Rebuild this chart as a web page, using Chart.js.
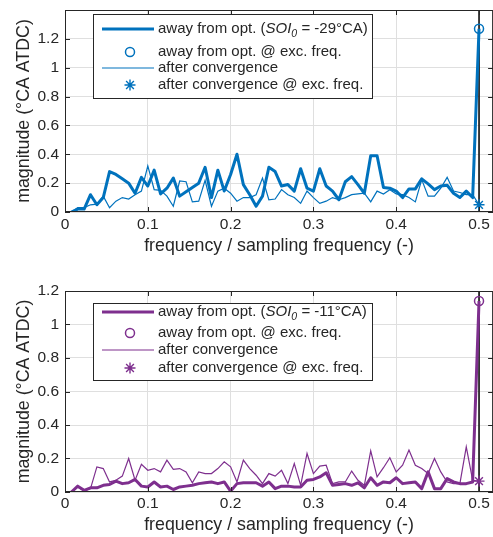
<!DOCTYPE html>
<html>
<head>
<meta charset="utf-8">
<script src="https://cdn.jsdelivr.net/npm/chart.js@4.4.0/dist/chart.umd.min.js"></script>
<style>
  html, body { margin: 0; padding: 0; background: #fff; overflow: hidden; }
  canvas { position: absolute; left: 0; }
  #chartTop { top: 0; }
  #chartBottom { top: 268px; }
</style>
</head>
<body>
<canvas id="chartTop" width="500" height="268"></canvas>
<canvas id="chartBottom" width="500" height="269"></canvas>
<script>
// normalised frequency bins (k / 130)
const freq = [
  0.0077, 0.0154, 0.0231, 0.0308, 0.0385, 0.0462, 0.0538, 0.0615, 0.0692, 0.0769,
  0.0846, 0.0923, 0.1000, 0.1077, 0.1154, 0.1231, 0.1308, 0.1385, 0.1462, 0.1538,
  0.1615, 0.1692, 0.1769, 0.1846, 0.1923, 0.2000, 0.2077, 0.2154, 0.2231, 0.2308,
  0.2385, 0.2462, 0.2538, 0.2615, 0.2692, 0.2769, 0.2846, 0.2923, 0.3000, 0.3077,
  0.3154, 0.3231, 0.3308, 0.3385, 0.3462, 0.3538, 0.3615, 0.3692, 0.3769, 0.3846,
  0.3923, 0.4000, 0.4077, 0.4154, 0.4231, 0.4308, 0.4385, 0.4462, 0.4538, 0.4615,
  0.4692, 0.4769, 0.4846, 0.4923, 0.5000
];
const excFreq = 0.5;

const xTicks = [0, 0.1, 0.2, 0.3, 0.4, 0.5];
const yTicks = [0, 0.2, 0.4, 0.6, 0.8, 1, 1.2];

// SOI0 = -29 °CA
const awayTop = [
  0, 0.02, 0.02, 0.12, 0.05, 0.10, 0.28, 0.26, 0.23, 0.20,
  0.13, 0.24, 0.18, 0.29, 0.125, 0.165, 0.235, 0.11, 0.14, 0.17,
  0.20, 0.31, 0.10, 0.29, 0.145, 0.26, 0.40, 0.19, 0.12, 0.04,
  0.11, 0.31, 0.28, 0.18, 0.19, 0.145, 0.30, 0.165, 0.145, 0.30,
  0.18, 0.145, 0.085, 0.21, 0.245, 0.19, 0.13, 0.39, 0.39, 0.17,
  0.165, 0.145, 0.10, 0.16, 0.16, 0.23, 0.195, 0.155, 0.18, 0.185,
  0.13, 0.10, 0.145, 0.10, 1.27
];
const convTop = [
  0, 0.03, 0.03, 0.05, 0.055, 0.11, 0.03, 0.075, 0.10, 0.09,
  0.12, 0.145, 0.32, 0.155, 0.15, 0.11, 0.04, 0.215, 0.21, 0.07,
  0.075, 0.22, 0.04, 0.145, 0.165, 0.13, 0.075, 0.10, 0.10, 0.12,
  0.235, 0.085, 0.09, 0.155, 0.12, 0.10, 0.06, 0.145, 0.10, 0.06,
  0.075, 0.10, 0.085, 0.10, 0.12, 0.125, 0.13, 0.07, 0.145, 0.125,
  0.155, 0.125, 0.12, 0.10, 0.07, 0.225, 0.11, 0.11, 0.165, 0.24,
  0.145, 0.135, 0.12, 0.12, 0.05
];

// SOI0 = -11 °CA
const awayBottom = [
  0, 0.035, 0.01, 0.025, 0.025, 0.04, 0.045, 0.065, 0.05, 0.055,
  0.075, 0.035, 0.03, 0.06, 0.03, 0.035, 0.015, 0.03, 0.035, 0.04,
  0.05, 0.055, 0.06, 0.05, 0.06, 0.005, 0.05, 0.055, 0.055, 0.055,
  0.035, 0.06, 0.02, 0.035, 0.035, 0.03, 0.03, 0.07, 0.075, 0.09,
  0.115, 0.04, 0.045, 0.05, 0.04, 0.055, 0.025, 0.085, 0.04, 0.06,
  0.055, 0.085, 0.05, 0.055, 0.06, 0.02, 0.12, 0.02, 0.02, 0.08,
  0.06, 0.05, 0.05, 0.06, 1.14
];
const convBottom = [
  0, 0.03, 0.005, 0.02, 0.15, 0.14, 0.06, 0.07, 0.095, 0.20,
  0.07, 0.165, 0.13, 0.14, 0.12, 0.19, 0.135, 0.14, 0.12, 0.055,
  0.12, 0.11, 0.11, 0.14, 0.18, 0.15, 0.06, 0.19, 0.14, 0.10,
  0.05, 0.11, 0.095, 0.13, 0.05, 0.17, 0.04, 0.23, 0.11, 0.155,
  0.16, 0.05, 0.06, 0.06, 0.125, 0.07, 0.04, 0.245, 0.09, 0.145,
  0.205, 0.12, 0.16, 0.25, 0.16, 0.14, 0.11, 0.20, 0.12, 0.06,
  0.05, 0.05, 0.27, 0.07, 0.065
];

const BLUE = '#0072BD';
const PURPLE = '#7E2F8E';
const INK = '#262626';
const FONT = '"Liberation Sans", Arial, Helvetica, sans-serif';

Chart.defaults.font.family = FONT;
Chart.defaults.color = INK;

const fmt = v => String(+Number(v).toFixed(1));
const pts = arr => freq.map((f, i) => ({ x: f, y: arr[i] }));
const last = arr => arr[arr.length - 1];

// black line at the excitation frequency
const excLine = {
  id: 'excLine',
  beforeDatasetsDraw(chart) {
    const { ctx, chartArea: a, scales: { x } } = chart;
    const px = x.getPixelForValue(excFreq);
    ctx.save();
    ctx.strokeStyle = '#000';
    ctx.lineWidth = 1.5;
    ctx.beginPath();
    ctx.moveTo(px, a.top);
    ctx.lineTo(px, a.bottom);
    ctx.stroke();
    ctx.restore();
  }
};

// box around the axes with inward ticks on all sides
const axesFrame = {
  id: 'axesFrame',
  afterDatasetsDraw(chart) {
    const { ctx, chartArea: a, scales: { x, y } } = chart;
    const len = 5;
    ctx.save();
    ctx.strokeStyle = INK;
    ctx.lineWidth = 1;
    ctx.beginPath();
    x.ticks.forEach(t => {
      const px = Math.round(x.getPixelForValue(t.value)) + 0.5;
      ctx.moveTo(px, a.bottom); ctx.lineTo(px, a.bottom - len);
      ctx.moveTo(px, a.top); ctx.lineTo(px, a.top + len);
    });
    y.ticks.forEach(t => {
      const py = Math.round(y.getPixelForValue(t.value)) + 0.5;
      ctx.moveTo(a.left, py); ctx.lineTo(a.left + len, py);
      ctx.moveTo(a.right, py); ctx.lineTo(a.right - len, py);
    });
    ctx.stroke();
    ctx.strokeRect(a.left + 0.5, a.top + 0.5, a.width - 1, a.height - 1);
    ctx.restore();
  }
};

// MATLAB style legend with the TeX subscript in the first entry
const boxLegend = {
  id: 'boxLegend',
  afterDraw(chart, args, o) {
    const ctx = chart.ctx;
    const c = o.color;
    const x0 = o.left;
    const lx0 = x0 + 9, lx1 = x0 + 61, mx = x0 + 37, tx = x0 + 65;
    ctx.save();
    ctx.fillStyle = '#fff';
    ctx.fillRect(x0, o.top, o.width, o.height);
    ctx.strokeStyle = INK;
    ctx.lineWidth = 1;
    ctx.strokeRect(x0 + 0.5, o.top + 0.5, o.width, o.height);

    ctx.strokeStyle = c;
    ctx.lineCap = 'butt';
    // thick line sample
    ctx.lineWidth = 3;
    ctx.beginPath(); ctx.moveTo(lx0, o.rows[0]); ctx.lineTo(lx1, o.rows[0]); ctx.stroke();
    // circle marker
    ctx.lineWidth = 1.5;
    ctx.beginPath(); ctx.arc(mx, o.rows[1], 4.5, 0, Math.PI * 2); ctx.stroke();
    // thin line sample
    ctx.lineWidth = 1.2;
    ctx.beginPath(); ctx.moveTo(lx0, o.rows[2]); ctx.lineTo(lx1, o.rows[2]); ctx.stroke();
    // asterisk marker
    ctx.lineWidth = 1.4;
    ctx.beginPath();
    const r = 5.5, d = r * Math.SQRT1_2;
    ctx.moveTo(mx, o.rows[3] - r); ctx.lineTo(mx, o.rows[3] + r);
    ctx.moveTo(mx - r, o.rows[3]); ctx.lineTo(mx + r, o.rows[3]);
    ctx.moveTo(mx - d, o.rows[3] - d); ctx.lineTo(mx + d, o.rows[3] + d);
    ctx.moveTo(mx - d, o.rows[3] + d); ctx.lineTo(mx + d, o.rows[3] - d);
    ctx.stroke();

    ctx.fillStyle = INK;
    ctx.textBaseline = 'middle';
    ctx.textAlign = 'left';
    const size = 15;
    // first entry: away from opt. (SOI_0 = ...)
    let cx = tx;
    const seg = (txt, style, sz, dy) => {
      ctx.font = `${style} ${sz}px ${FONT}`;
      ctx.fillText(txt, cx, o.rows[0] + dy);
      cx += ctx.measureText(txt).width;
    };
    seg('away from opt. (', 'normal', size, 0);
    seg('SOI', 'italic', size, 0);
    seg('0', 'italic', 10.5, 5);
    seg(' = ' + o.soi + '\u00B0CA)', 'normal', size, 0);

    ctx.font = `${size}px ${FONT}`;
    ctx.fillText('away from opt. @ exc. freq.', tx, o.rows[1]);
    ctx.fillText('after convergence', tx, o.rows[2]);
    ctx.fillText('after convergence @ exc. freq.', tx, o.rows[3]);
    ctx.restore();
  }
};

function spectrumChart(id, cfg) {
  const ctx = document.getElementById(id).getContext('2d');
  return new Chart(ctx, {
    type: 'line',
    data: {
      datasets: [
        {
          data: pts(cfg.away),
          borderColor: cfg.color,
          borderWidth: 3,
          borderJoinStyle: 'round',
          pointRadius: 0,
          order: 3
        },
        {
          data: [{ x: excFreq, y: last(cfg.away) }],
          showLine: false,
          pointStyle: 'circle',
          pointRadius: 4.5,
          pointBorderWidth: 1.5,
          pointBorderColor: cfg.color,
          pointBackgroundColor: 'rgba(0,0,0,0)',
          clip: false,
          order: 2
        },
        {
          data: pts(cfg.conv),
          borderColor: cfg.color,
          borderWidth: 1.2,
          pointRadius: 0,
          order: 1
        },
        {
          data: [{ x: excFreq, y: last(cfg.conv) }],
          showLine: false,
          pointStyle: 'star',
          pointRadius: 5.5,
          pointBorderWidth: 1.4,
          pointBorderColor: cfg.color,
          clip: false,
          order: 0
        }
      ]
    },
    options: {
      responsive: false,
      animation: false,
      layout: { padding: { top: cfg.padTop, right: 6, left: 0, bottom: 0 } },
      scales: {
        x: {
          type: 'linear',
          min: 0,
          max: 0.517,
          afterBuildTicks: s => { s.ticks = xTicks.map(v => ({ value: v })); },
          afterFit: s => { s.height = cfg.xHeight; s.paddingLeft = 0; s.paddingRight = 0; },
          grid: { color: '#dfdfdf', lineWidth: 1, drawTicks: false },
          border: { display: false },
          ticks: {
            font: { size: 15.5 }, color: INK, padding: cfg.xTickPad,
            maxRotation: 0, autoSkip: false, callback: fmt
          },
          title: {
            display: true,
            text: 'frequency / sampling frequency (-)',
            font: { size: 17.8 }, color: INK,
            padding: { top: 0, bottom: cfg.xTitlePad }
          }
        },
        y: {
          min: 0,
          max: cfg.yMax,
          afterBuildTicks: s => { s.ticks = yTicks.map(v => ({ value: v })); },
          afterFit: s => { s.width = 65; s.paddingTop = 0; s.paddingBottom = 0; },
          grid: { color: '#dfdfdf', lineWidth: 1, drawTicks: false },
          border: { display: false },
          ticks: { font: { size: 15.5 }, color: INK, padding: 6, callback: fmt },
          title: {
            display: true,
            text: 'magnitude (\u00B0CA ATDC)',
            font: { size: 17.8 }, color: INK,
            padding: { top: 13, bottom: 0 }
          }
        }
      },
      plugins: {
        legend: { display: false },
        tooltip: { enabled: false },
        boxLegend: cfg.legend
      }
    },
    plugins: [excLine, axesFrame, boxLegend]
  });
}

spectrumChart('chartTop', {
  away: awayTop,
  conv: convTop,
  color: BLUE,
  yMax: 1.4,
  padTop: 10,
  xHeight: 56,
  xTickPad: 3,
  xTitlePad: 11,
  legend: { color: BLUE, soi: '-29', left: 93, top: 14, width: 279, height: 84, rows: [29, 52, 68, 85] }
});

spectrumChart('chartBottom', {
  away: awayBottom,
  conv: convBottom,
  color: PURPLE,
  yMax: 1.2,
  padTop: 23,
  xHeight: 45,
  xTickPad: 2,
  xTitlePad: 1,
  legend: { color: PURPLE, soi: '-11', left: 93, top: 35, width: 279, height: 77, rows: [44, 65, 82, 100] }
});
</script>
</body>
</html>
